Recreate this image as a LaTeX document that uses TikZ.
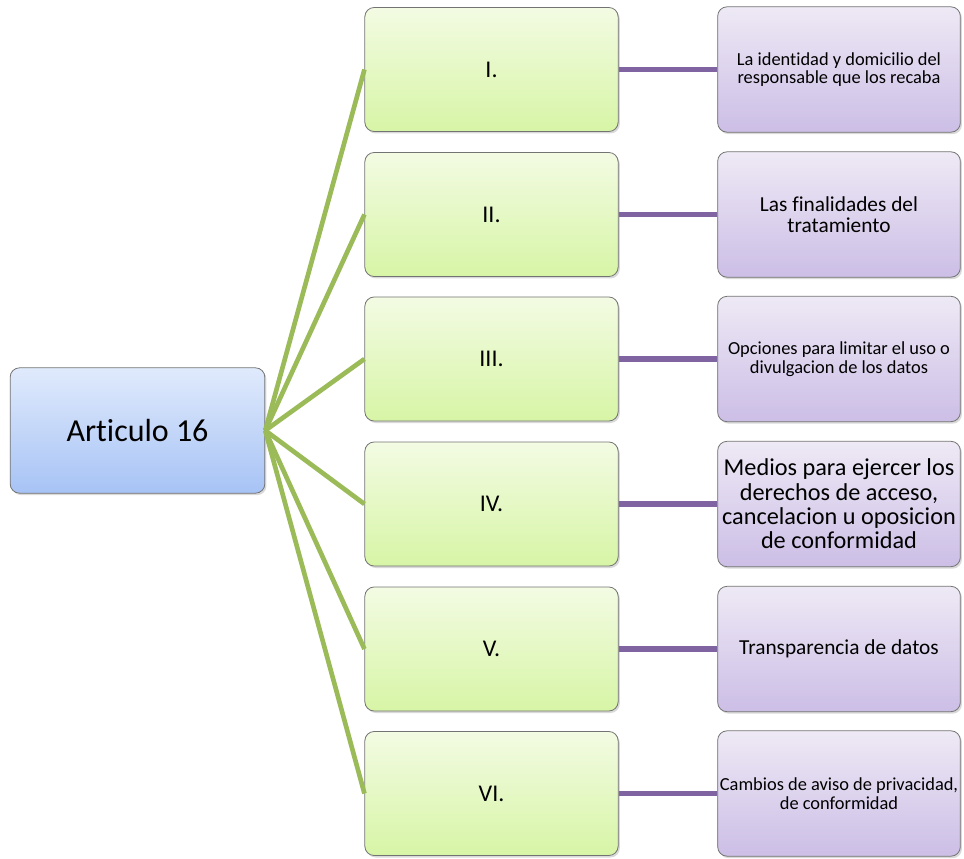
\documentclass[tikz,border=0pt]{standalone}
\usepackage{fontspec}
\setmainfont{Carlito}[Ligatures=NoCommon]
\usetikzlibrary{shadows}
\definecolor{rootTop}{HTML}{E0EAFC}
\definecolor{rootBot}{HTML}{A7C3F5}
\definecolor{itemTop}{HTML}{F3FBE3}
\definecolor{itemBot}{HTML}{D7F5A6}
\definecolor{noteTop}{HTML}{EEE9F5}
\definecolor{noteBot}{HTML}{CCBEE6}
\definecolor{branchGreen}{HTML}{9BBB59}
\definecolor{linkPurple}{HTML}{8064A2}
\tikzset{box/.style={draw=black!55,line width=.6pt,rounded corners=7pt,align=center,inner sep=1pt,
    drop shadow={opacity=.3,shadow xshift=1.2pt,shadow yshift=-1.5pt}},
  rootbox/.style={box,minimum width=191pt,minimum height=94pt,top color=rootTop,bottom color=rootBot,
    font=\fontsize{24}{28}\selectfont},
  itembox/.style={box,minimum width=190pt,minimum height=93pt,top color=itemTop,bottom color=itemBot,
    font=\fontsize{18}{21}\selectfont},
  notebox/.style={box,minimum width=182pt,minimum height=94pt,top color=noteTop,bottom color=noteBot},
  branch/.style={draw=branchGreen,line width=3.5pt},
  link/.style={draw=linkPurple,line width=4pt}}

\begin{document}
\begin{tikzpicture}[x=.75pt,y=-.75pt]
  \useasboundingbox (0,0) rectangle (964,859);
  \node[rootbox] (art) at (137.5,430.5) {Articulo 16};
  \foreach \i/\num/\y/\fs/\txt in {
      1/I./69.5/13.8/{La identidad y domicilio del\\responsable que los recaba},
      2/II./214.5/16/{Las finalidades del\\tratamiento},
      3/III./359/13.8/{Opciones para limitar el uso o\\divulgacion de los datos},
      4/IV./504/18.2/{Medios para ejercer los\\derechos de acceso,\\cancelacion u oposicion\\de conformidad},
      5/V./649/16/{Transparencia de datos},
      6/VI./793.5/13.8/{Cambios de aviso de privacidad,\\de conformidad}}{
    \node[itembox] (sec\i) at (491.5,\y) {\num};
    \node[notebox,font=\fontsize{\fs}{\fs}\selectfont] (note\i) at (839,\y) {\txt};
    \draw[branch] (art.east) -- (sec\i.west);
    \draw[link] (sec\i.east) -- (note\i.west);
  }
\end{tikzpicture}
\end{document}
